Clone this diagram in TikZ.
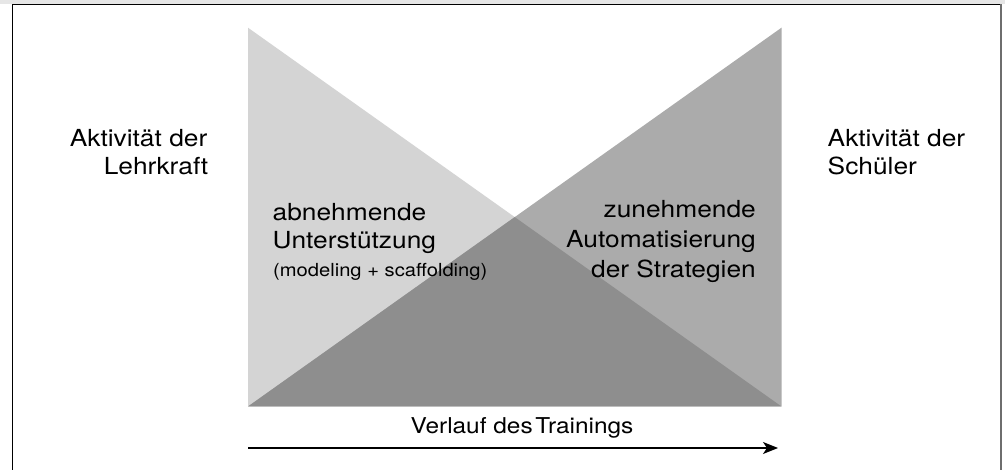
\documentclass[tikz,border=0pt]{standalone}
\usepackage{fontspec}
\setmainfont{TeX Gyre Heros}[FakeStretch=1.12]
\usetikzlibrary{arrows.meta}

\definecolor{lightwedge}{RGB}{212,212,212}
\definecolor{midwedge}{RGB}{171,171,171}
\definecolor{overlapwedge}{RGB}{142,142,142}
\definecolor{topband}{RGB}{230,230,230}
\definecolor{rightrule}{RGB}{110,110,110}

\begin{document}
\begin{tikzpicture}[x=1pt, y=-1pt,
  biglabel/.style={inner sep=0pt, font=\fontsize{23.5}{28}\selectfont},
  smallnote/.style={inner sep=0pt, font=\fontsize{18}{22}\selectfont},
  axislabel/.style={inner sep=0pt, font=\fontsize{21.8}{26}\selectfont},
  progress/.style={line width=1.5pt, -{Stealth[length=15pt, width=12pt, inset=4pt]}}
]
\useasboundingbox (0,0) rectangle (1005,470);

% frame
\fill[topband] (0,0) rectangle (1005,4);
\draw[line width=1.2pt] (12.5,472) -- (12.5,4.8) -- (1000,4.8);
\draw[rightrule, line width=2pt] (1001,4) -- (1001,472);

% corners of the two wedges
\coordinate (tl) at (248,27.7);
\coordinate (bl) at (248,406.5);
\coordinate (br) at (781.5,406.5);
\coordinate (tr) at (781.5,27.7);
\coordinate (cross) at (514.75,217.1);

% decreasing support (left) and increasing automation (right)
\fill[lightwedge] (tl) -- (bl) -- (br) -- cycle;
\fill[midwedge] (tr) -- (br) -- (bl) -- cycle;
\fill[overlapwedge] (bl) -- (cross) -- (br) -- cycle;

% side labels
\node[biglabel, anchor=base east] (teacher1) at (207.5,147) {Aktivität der};
\node[biglabel, anchor=base east] (teacher2) at (208.5,175) {Lehrkraft};
\node[biglabel, anchor=base west] (pupils1) at (827.5,147) {Aktivität der};
\node[biglabel, anchor=base west] (pupils2) at (827.5,175) {Schüler};

% wedge labels
\node[biglabel, anchor=base west] (support1) at (272.5,220.5) {abnehmende};
\node[biglabel, anchor=base west] (support2) at (272.5,248.5) {Unterstützung};
\node[smallnote, anchor=base west] (support3) at (273,276.8) {(modeling + scaffolding)};
\node[biglabel, anchor=base east] (auto1) at (756,217.3) {zunehmende};
\node[biglabel, anchor=base east] (auto2) at (756,248) {Automatisierung};
\node[biglabel, anchor=base east] (auto3) at (756,277.3) {der Strategien};

% time axis
\node[axislabel, anchor=base] (course) at (522,434) {Verlauf des\kern0.12em Trainings};
\coordinate (axisstart) at (248,448);
\coordinate (axisend) at (778,448);
\draw[progress] (axisstart) -- (axisend);
\end{tikzpicture}
\end{document}
